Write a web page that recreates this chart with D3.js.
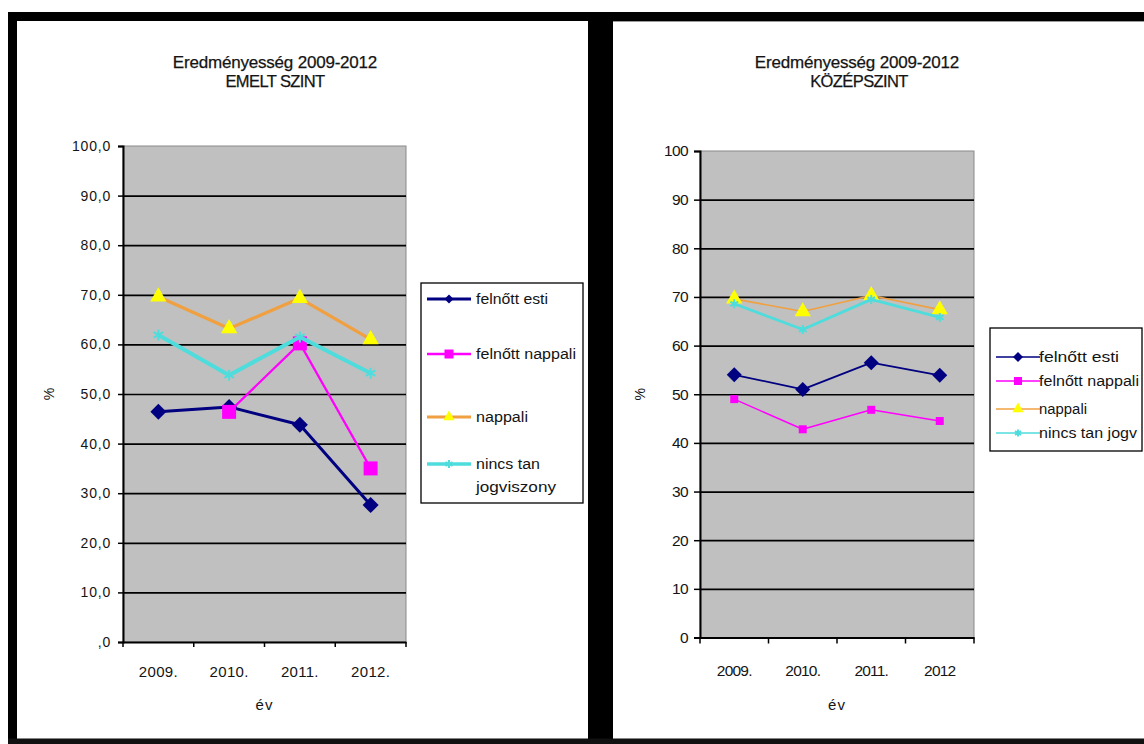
<!DOCTYPE html>
<html>
<head>
<meta charset="utf-8">
<script src="https://cdn.jsdelivr.net/npm/d3@7"></script>
<style>
  body { margin: 0; background: #fff; }
  svg { display: block; }
  text { font-family: "Liberation Sans", Arial, sans-serif; fill: #141414; }
</style>
</head>
<body>
<svg id="chart" width="1144" height="744"></svg>
<script>
// ---- data: success rates (%) of school-leaving exams, 2009-2012 ----
const yearsEmelt = ["2009.", "2010.", "2011.", "2012."];
const yearsKozep = ["2009.", "2010.", "2011.", "2012"];

const legendEmelt = ["felnőtt esti", "felnőtt nappali", "nappali", "nincs tan jogviszony"];
const legendKozep = ["felnőtt esti", "felnőtt nappali", "nappali", "nincs tan jogv"];

// EMELT SZINT (advanced level)
const emeltFelnottEsti    = [46.4, 47.4, 43.8, 27.6];
const emeltFelnottNappali = [null, 46.4, 60.2, 35.0];
const emeltNappali        = [69.6, 63.2, 69.3, 61.0];
const emeltNincsTan       = [61.9, 53.8, 61.5, 54.2];

// KÖZÉPSZINT (intermediate level)
const kozepFelnottEsti    = [54.0, 51.0, 56.5, 53.9];
const kozepFelnottNappali = [49.0, 42.8, 46.8, 44.5];
const kozepNappali        = [69.6, 67.0, 70.3, 67.4];
const kozepNincsTan       = [68.6, 63.3, 69.5, 65.8];

const yTicks = [0, 10, 20, 30, 40, 50, 60, 70, 80, 90, 100];

// ---- series appearance ----
const seriesStyle = [
  { line: "#000080", fill: "#000080", marker: "diamond" },
  { line: "#ff00ff", fill: "#ff00ff", marker: "square" },
  { line: "#f0a040", fill: "#ffff00", marker: "triangle" },
  { line: "#4fdcdc", fill: "#4fdcdc", marker: "asterisk" }
];

const svg = d3.select("#chart");

// frame around the two charts
const frame = svg.append("g").attr("fill", "#000");
frame.append("rect").attr("x", 8).attr("y", 12).attr("width", 1136).attr("height", 9);
frame.append("rect").attr("x", 8).attr("y", 12).attr("width", 9).attr("height", 732);
frame.append("rect").attr("x", 588).attr("y", 12).attr("width", 25).attr("height", 732);
frame.append("rect").attr("x", 8).attr("y", 738.5).attr("width", 1136).attr("height", 6).attr("fill", "#111");
frame.append("rect").attr("x", 613).attr("y", 21).attr("width", 531).attr("height", 1).attr("fill", "#9a9a9a");

function markerPath(type, size) {
  if (type === "diamond") return d3.symbol(d3.symbolSquare, size * size / 2)();
  if (type === "square") return d3.symbol(d3.symbolSquare, size * size)();
  if (type === "triangle") return d3.symbol(d3.symbolTriangle, size * size * 0.45)();
  return d3.symbol(d3.symbolAsterisk, size * size * 0.7)();
}

function drawMarker(sel, type, size, style) {
  const p = sel.append("path").attr("d", markerPath(type, size));
  if (type === "diamond") p.attr("transform", "rotate(45)");
  if (type === "asterisk") p.attr("fill", "none").attr("stroke", style.fill).attr("stroke-width", 2);
  else p.attr("fill", style.fill).attr("stroke", "none");
  return p;
}

function drawPanel(cfg) {
  const g = svg.append("g");
  const x = d3.scaleBand().domain(cfg.categories).range([cfg.left, cfg.right]).padding(0);
  const y = d3.scaleLinear().domain([0, 100]).range([cfg.bottom, cfg.top]);
  const cx = c => x(c) + x.bandwidth() / 2;

  // title
  g.append("text").attr("x", cfg.titleX).attr("y", 68).attr("text-anchor", "middle")
    .attr("font-size", 17).attr("letter-spacing", -0.2)
    .attr("stroke", "#141414").attr("stroke-width", 0.25).text("Eredményesség 2009-2012");
  g.append("text").attr("x", cfg.titleX + cfg.subDx).attr("y", 87).attr("text-anchor", "middle")
    .attr("font-size", 16.5).attr("letter-spacing", -0.6)
    .attr("stroke", "#141414").attr("stroke-width", 0.25).text(cfg.subtitle);

  // plot area
  g.append("rect").attr("x", cfg.left).attr("y", cfg.top)
    .attr("width", cfg.right - cfg.left).attr("height", cfg.bottom - cfg.top)
    .attr("fill", "#c0c0c0").attr("stroke", "#8a8a8a").attr("stroke-width", 1);

  // horizontal gridlines
  g.append("g").attr("transform", `translate(${cfg.left},0)`)
    .call(d3.axisLeft(y).tickValues(yTicks.filter(t => t > 0 && t < 100))
      .tickSize(-(cfg.right - cfg.left)).tickFormat(""))
    .call(a => a.select(".domain").remove())
    .call(a => a.selectAll("line").attr("stroke", "#000").attr("stroke-width", 1.7));

  // value axis
  const ya = g.append("g").attr("transform", `translate(${cfg.left},0)`)
    .call(d3.axisLeft(y).tickValues(yTicks).tickSize(cfg.tickLen).tickPadding(cfg.yPad).tickFormat(cfg.fmt));
  ya.select(".domain").attr("stroke", "#000").attr("stroke-width", 2);
  ya.selectAll(".tick line").attr("stroke", "#000").attr("stroke-width", 1.5);
  ya.selectAll(".tick text").attr("font-size", cfg.yFont).attr("letter-spacing", cfg.yLs)
    .attr("fill", "#141414").attr("font-family", null);

  // category axis
  const xa = g.append("g").attr("transform", `translate(0,${cfg.bottom})`)
    .call(d3.axisBottom(x).tickSize(0).tickPadding(cfg.xPad));
  xa.select(".domain").attr("stroke", "#000").attr("stroke-width", 2);
  xa.selectAll(".tick text").attr("font-size", cfg.xFont).attr("letter-spacing", cfg.xLs)
    .attr("fill", "#141414").attr("font-family", null);
  const bounds = cfg.categories.map(c => x(c)).concat([x.range()[1]]);
  g.append("g").selectAll("line").data(bounds).join("line")
    .attr("x1", d => d).attr("x2", d => d)
    .attr("y1", cfg.bottom).attr("y2", cfg.bottom + cfg.tickLen)
    .attr("stroke", "#000").attr("stroke-width", 1.5);

  // axis titles
  g.append("text").attr("x", cx(cfg.categories[1]) + x.bandwidth() / 2).attr("y", 710)
    .attr("text-anchor", "middle").attr("font-size", 15).attr("letter-spacing", 1).text("év");
  g.append("text").attr("transform", `translate(${cfg.pctX},${y(50)}) rotate(-90)`)
    .attr("text-anchor", "middle").attr("font-size", 14).text("%");

  // series
  cfg.series.forEach((vals, i) => {
    const st = seriesStyle[i];
    const pts = cfg.categories.map((c, j) => ({ c, v: vals[j] }));
    const line = d3.line().defined(d => d.v != null).x(d => cx(d.c)).y(d => y(d.v));
    g.append("path").datum(pts).attr("d", line)
      .attr("fill", "none").attr("stroke", st.line)
      .attr("stroke-width", cfg.lineWidth[i]).attr("stroke-linejoin", "round");
    pts.filter(d => d.v != null).forEach(d => {
      const m = g.append("g").attr("transform", `translate(${cx(d.c)},${y(d.v)})`);
      drawMarker(m, st.marker, cfg.markerSize[i], st);
    });
  });

  // legend
  const lg = cfg.legend;
  g.append("rect").attr("x", lg.x).attr("y", lg.y).attr("width", lg.w).attr("height", lg.h)
    .attr("fill", "#fff").attr("stroke", "#000").attr("stroke-width", 1.3);
  cfg.legendNames.forEach((name, i) => {
    const st = seriesStyle[i];
    const ey = lg.rows[i];
    g.append("line").attr("x1", lg.x + 6).attr("x2", lg.x + 50).attr("y1", ey).attr("y2", ey)
      .attr("stroke", st.line).attr("stroke-width", lg.lineWidth[i]);
    const m = g.append("g").attr("transform", `translate(${lg.x + 28},${ey})`);
    drawMarker(m, st.marker, lg.markerSize[i], st);
    const lines = lg.wrap[i] ? lg.wrap[i] : [name];
    lines.forEach((t, k) => {
      g.append("text").attr("x", lg.textX).attr("y", ey + 5 + k * 23)
        .attr("font-size", lg.font).attr("textLength", lg.widths[i][k])
        .attr("lengthAdjust", "spacingAndGlyphs").text(t);
    });
  });
}

drawPanel({
  categories: yearsEmelt,
  left: 123, right: 406, top: 146, bottom: 642,
  titleX: 275, subDx: 0, subtitle: "EMELT SZINT",
  fmt: d => d === 0 ? ",0" : d3.format(".1f")(d).replace(".", ","),
  tickLen: 5, yPad: 7, yFont: 14, yLs: 0.8, xPad: 24, xFont: 15, xLs: 0.3,
  pctX: 54,
  series: [emeltFelnottEsti, emeltFelnottNappali, emeltNappali, emeltNincsTan],
  lineWidth: [3, 2.2, 3.2, 4],
  markerSize: [16, 14, 16, 11],
  legendNames: legendEmelt,
  legend: {
    x: 421, y: 283, w: 162, h: 220, textX: 476, font: 14,
    rows: [299, 354, 417, 464],
    wrap: [null, null, null, ["nincs tan", "jogviszony"]],
    widths: [[72], [100], [52], [64, 80]],
    lineWidth: [3, 2.5, 3, 3.5],
    markerSize: [9, 9, 11, 8]
  }
});

drawPanel({
  categories: yearsKozep,
  left: 700, right: 974, top: 151, bottom: 637.5,
  titleX: 857, subDx: 2, subtitle: "KÖZÉPSZINT",
  fmt: d3.format("d"),
  tickLen: 6, yPad: 6, yFont: 15.5, yLs: -0.6, xPad: 27, xFont: 15.5, xLs: -0.8,
  pctX: 645,
  series: [kozepFelnottEsti, kozepFelnottNappali, kozepNappali, kozepNincsTan],
  lineWidth: [1.8, 1.5, 1.6, 2.8],
  markerSize: [15, 8, 16, 9],
  legendNames: legendKozep,
  legend: {
    x: 990, y: 328, w: 152, h: 123, textX: 1039, font: 14,
    rows: [357, 381, 409, 433],
    wrap: [null, null, null, null],
    widths: [[80], [100], [48], [98]],
    lineWidth: [1.5, 1.5, 1.5, 1.5],
    markerSize: [10, 8, 11, 7]
  }
});
</script>
</body>
</html>
